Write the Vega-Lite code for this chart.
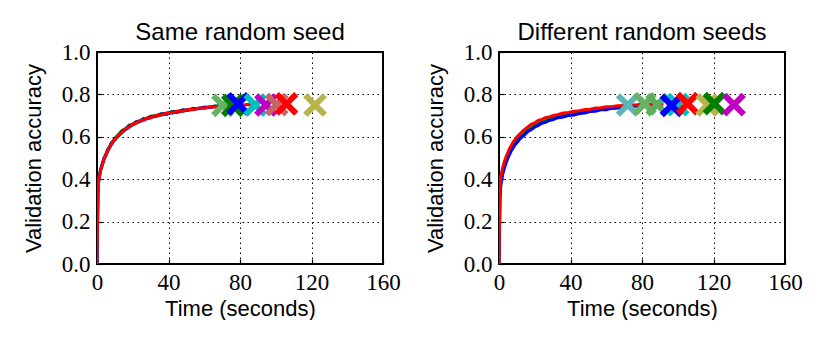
{
  "$schema": "https://vega.github.io/schema/vega-lite/v6.json",
  "padding": {"left": 21, "top": 20, "right": 0, "bottom": 0},
  "background": "white",
  "datasets": {
    "lines_same": [
      {"run":"green","t":0,"acc":0},{"run":"green","t":0.5,"acc":0.34},{"run":"green","t":1,"acc":0.405},{"run":"green","t":2,"acc":0.447},{"run":"green","t":3,"acc":0.474},{"run":"green","t":4,"acc":0.503},{"run":"green","t":5,"acc":0.519},{"run":"green","t":6,"acc":0.541},{"run":"green","t":7,"acc":0.553},{"run":"green","t":8,"acc":0.572},{"run":"green","t":9,"acc":0.58},{"run":"green","t":10,"acc":0.594},{"run":"green","t":12,"acc":0.611},{"run":"green","t":14,"acc":0.63},{"run":"green","t":16,"acc":0.639},{"run":"green","t":18,"acc":0.655},{"run":"green","t":20,"acc":0.66},{"run":"green","t":22,"acc":0.672},{"run":"green","t":24,"acc":0.676},{"run":"green","t":26,"acc":0.686},{"run":"green","t":28,"acc":0.688},{"run":"green","t":30,"acc":0.697},{"run":"green","t":33,"acc":0.7},{"run":"green","t":36,"acc":0.709},{"run":"green","t":39,"acc":0.711},{"run":"green","t":42,"acc":0.719},{"run":"green","t":45,"acc":0.72},{"run":"green","t":48,"acc":0.727},{"run":"green","t":51,"acc":0.728},{"run":"green","t":54,"acc":0.734},{"run":"green","t":57,"acc":0.735},{"run":"green","t":60,"acc":0.739},{"run":"green","t":63,"acc":0.741},{"run":"green","t":66,"acc":0.745},{"run":"green","t":69,"acc":0.746},{"run":"green","t":72,"acc":0.749},
      {"run":"cyan","t":0,"acc":0},{"run":"cyan","t":0.5,"acc":0.32},{"run":"cyan","t":1,"acc":0.395},{"run":"cyan","t":2,"acc":0.438},{"run":"cyan","t":3,"acc":0.466},{"run":"cyan","t":4,"acc":0.492},{"run":"cyan","t":5,"acc":0.511},{"run":"cyan","t":6,"acc":0.53},{"run":"cyan","t":7,"acc":0.548},{"run":"cyan","t":8,"acc":0.56},{"run":"cyan","t":9,"acc":0.575},{"run":"cyan","t":10,"acc":0.583},{"run":"cyan","t":12,"acc":0.603},{"run":"cyan","t":14,"acc":0.617},{"run":"cyan","t":16,"acc":0.634},{"run":"cyan","t":18,"acc":0.643},{"run":"cyan","t":20,"acc":0.655},{"run":"cyan","t":22,"acc":0.663},{"run":"cyan","t":24,"acc":0.672},{"run":"cyan","t":26,"acc":0.676},{"run":"cyan","t":28,"acc":0.685},{"run":"cyan","t":30,"acc":0.688},{"run":"cyan","t":33,"acc":0.697},{"run":"cyan","t":36,"acc":0.701},{"run":"cyan","t":39,"acc":0.708},{"run":"cyan","t":42,"acc":0.711},{"run":"cyan","t":45,"acc":0.717},{"run":"cyan","t":48,"acc":0.719},{"run":"cyan","t":51,"acc":0.726},{"run":"cyan","t":54,"acc":0.728},{"run":"cyan","t":57,"acc":0.733},{"run":"cyan","t":60,"acc":0.735},{"run":"cyan","t":63,"acc":0.739},{"run":"cyan","t":66,"acc":0.741},{"run":"cyan","t":69,"acc":0.744},{"run":"cyan","t":72,"acc":0.747},
      {"run":"blue","t":0,"acc":0},{"run":"blue","t":0.5,"acc":0.33},{"run":"blue","t":1,"acc":0.402},{"run":"blue","t":2,"acc":0.443},{"run":"blue","t":3,"acc":0.472},{"run":"blue","t":4,"acc":0.498},{"run":"blue","t":5,"acc":0.513},{"run":"blue","t":6,"acc":0.538},{"run":"blue","t":7,"acc":0.549},{"run":"blue","t":8,"acc":0.568},{"run":"blue","t":9,"acc":0.576},{"run":"blue","t":10,"acc":0.591},{"run":"blue","t":12,"acc":0.605},{"run":"blue","t":14,"acc":0.625},{"run":"blue","t":16,"acc":0.634},{"run":"blue","t":18,"acc":0.651},{"run":"blue","t":20,"acc":0.656},{"run":"blue","t":22,"acc":0.67},{"run":"blue","t":24,"acc":0.672},{"run":"blue","t":26,"acc":0.684},{"run":"blue","t":28,"acc":0.685},{"run":"blue","t":30,"acc":0.695},{"run":"blue","t":33,"acc":0.697},{"run":"blue","t":36,"acc":0.708},{"run":"blue","t":39,"acc":0.707},{"run":"blue","t":42,"acc":0.717},{"run":"blue","t":45,"acc":0.716},{"run":"blue","t":48,"acc":0.726},{"run":"blue","t":51,"acc":0.725},{"run":"blue","t":54,"acc":0.733},{"run":"blue","t":57,"acc":0.732},{"run":"blue","t":60,"acc":0.739},{"run":"blue","t":63,"acc":0.738},{"run":"blue","t":66,"acc":0.744},{"run":"blue","t":69,"acc":0.744},{"run":"blue","t":72,"acc":0.749},
      {"run":"red","t":0,"acc":0},{"run":"red","t":0.5,"acc":0.335},{"run":"red","t":1,"acc":0.398},{"run":"red","t":2,"acc":0.441},{"run":"red","t":3,"acc":0.469},{"run":"red","t":4,"acc":0.496},{"run":"red","t":5,"acc":0.516},{"run":"red","t":6,"acc":0.533},{"run":"red","t":7,"acc":0.552},{"run":"red","t":8,"acc":0.563},{"run":"red","t":9,"acc":0.579},{"run":"red","t":10,"acc":0.586},{"run":"red","t":12,"acc":0.609},{"run":"red","t":14,"acc":0.62},{"run":"red","t":16,"acc":0.638},{"run":"red","t":18,"acc":0.646},{"run":"red","t":20,"acc":0.66},{"run":"red","t":22,"acc":0.665},{"run":"red","t":24,"acc":0.676},{"run":"red","t":26,"acc":0.679},{"run":"red","t":28,"acc":0.689},{"run":"red","t":30,"acc":0.69},{"run":"red","t":33,"acc":0.701},{"run":"red","t":36,"acc":0.703},{"run":"red","t":39,"acc":0.712},{"run":"red","t":42,"acc":0.713},{"run":"red","t":45,"acc":0.721},{"run":"red","t":48,"acc":0.721},{"run":"red","t":51,"acc":0.729},{"run":"red","t":54,"acc":0.729},{"run":"red","t":57,"acc":0.736},{"run":"red","t":60,"acc":0.735},{"run":"red","t":63,"acc":0.742},{"run":"red","t":66,"acc":0.741},{"run":"red","t":69,"acc":0.747},{"run":"red","t":72,"acc":0.746},{"run":"red","t":76,"acc":0.75},{"run":"red","t":80,"acc":0.749},{"run":"red","t":84,"acc":0.752},{"run":"red","t":88,"acc":0.751}
    ],
    "marks_same": [
      {"run":"lightgreen","t":70.5,"acc":0.748},
      {"run":"green","t":76,"acc":0.748},
      {"run":"blue","t":79,"acc":0.755},
      {"run":"cyan","t":88.5,"acc":0.75},
      {"run":"magenta","t":94.5,"acc":0.75},
      {"run":"pinkred","t":100.5,"acc":0.752},
      {"run":"red","t":106,"acc":0.755},
      {"run":"olive","t":122,"acc":0.75}
    ],
    "lines_diff": [
      {"run":"cyan","t":0,"acc":0},{"run":"cyan","t":0.5,"acc":0.34},{"run":"cyan","t":1,"acc":0.41},{"run":"cyan","t":2,"acc":0.45},{"run":"cyan","t":3,"acc":0.478},{"run":"cyan","t":4,"acc":0.503},{"run":"cyan","t":5,"acc":0.522},{"run":"cyan","t":6,"acc":0.542},{"run":"cyan","t":7,"acc":0.556},{"run":"cyan","t":8,"acc":0.571},{"run":"cyan","t":9,"acc":0.583},{"run":"cyan","t":10,"acc":0.593},{"run":"cyan","t":12,"acc":0.612},{"run":"cyan","t":14,"acc":0.628},{"run":"cyan","t":16,"acc":0.641},{"run":"cyan","t":18,"acc":0.652},{"run":"cyan","t":20,"acc":0.662},{"run":"cyan","t":22,"acc":0.67},{"run":"cyan","t":24,"acc":0.678},{"run":"cyan","t":26,"acc":0.684},{"run":"cyan","t":28,"acc":0.69},{"run":"cyan","t":30,"acc":0.694},{"run":"cyan","t":33,"acc":0.701},{"run":"cyan","t":36,"acc":0.707},{"run":"cyan","t":39,"acc":0.712},{"run":"cyan","t":42,"acc":0.716},{"run":"cyan","t":45,"acc":0.72},{"run":"cyan","t":48,"acc":0.724},{"run":"cyan","t":51,"acc":0.728},{"run":"cyan","t":54,"acc":0.731},{"run":"cyan","t":57,"acc":0.735},{"run":"cyan","t":60,"acc":0.737},{"run":"cyan","t":63,"acc":0.741},{"run":"cyan","t":66,"acc":0.743},{"run":"cyan","t":69,"acc":0.746},{"run":"cyan","t":72,"acc":0.748},
      {"run":"green","t":0,"acc":0},{"run":"green","t":0.5,"acc":0.32},{"run":"green","t":1,"acc":0.39},{"run":"green","t":2,"acc":0.43},{"run":"green","t":3,"acc":0.462},{"run":"green","t":4,"acc":0.487},{"run":"green","t":5,"acc":0.508},{"run":"green","t":6,"acc":0.527},{"run":"green","t":7,"acc":0.543},{"run":"green","t":8,"acc":0.558},{"run":"green","t":9,"acc":0.571},{"run":"green","t":10,"acc":0.58},{"run":"green","t":12,"acc":0.601},{"run":"green","t":14,"acc":0.614},{"run":"green","t":16,"acc":0.631},{"run":"green","t":18,"acc":0.64},{"run":"green","t":20,"acc":0.653},{"run":"green","t":22,"acc":0.66},{"run":"green","t":24,"acc":0.67},{"run":"green","t":26,"acc":0.674},{"run":"green","t":28,"acc":0.683},{"run":"green","t":30,"acc":0.686},{"run":"green","t":33,"acc":0.695},{"run":"green","t":36,"acc":0.699},{"run":"green","t":39,"acc":0.706},{"run":"green","t":42,"acc":0.709},{"run":"green","t":45,"acc":0.716},{"run":"green","t":48,"acc":0.718},{"run":"green","t":51,"acc":0.725},{"run":"green","t":54,"acc":0.727},{"run":"green","t":57,"acc":0.732},{"run":"green","t":60,"acc":0.734},{"run":"green","t":63,"acc":0.738},{"run":"green","t":66,"acc":0.74},{"run":"green","t":69,"acc":0.744},{"run":"green","t":72,"acc":0.745},
      {"run":"blue","t":0,"acc":0},{"run":"blue","t":0.5,"acc":0.3},{"run":"blue","t":1,"acc":0.37},{"run":"blue","t":2,"acc":0.42},{"run":"blue","t":3,"acc":0.452},{"run":"blue","t":4,"acc":0.478},{"run":"blue","t":5,"acc":0.5},{"run":"blue","t":6,"acc":0.518},{"run":"blue","t":7,"acc":0.536},{"run":"blue","t":8,"acc":0.549},{"run":"blue","t":9,"acc":0.563},{"run":"blue","t":10,"acc":0.572},{"run":"blue","t":12,"acc":0.593},{"run":"blue","t":14,"acc":0.607},{"run":"blue","t":16,"acc":0.624},{"run":"blue","t":18,"acc":0.633},{"run":"blue","t":20,"acc":0.646},{"run":"blue","t":22,"acc":0.654},{"run":"blue","t":24,"acc":0.664},{"run":"blue","t":26,"acc":0.668},{"run":"blue","t":28,"acc":0.677},{"run":"blue","t":30,"acc":0.68},{"run":"blue","t":33,"acc":0.69},{"run":"blue","t":36,"acc":0.693},{"run":"blue","t":39,"acc":0.701},{"run":"blue","t":42,"acc":0.703},{"run":"blue","t":45,"acc":0.71},{"run":"blue","t":48,"acc":0.712},{"run":"blue","t":51,"acc":0.719},{"run":"blue","t":54,"acc":0.721},{"run":"blue","t":57,"acc":0.727},{"run":"blue","t":60,"acc":0.728},{"run":"blue","t":63,"acc":0.734},{"run":"blue","t":66,"acc":0.735},{"run":"blue","t":69,"acc":0.74},{"run":"blue","t":72,"acc":0.741},{"run":"blue","t":76,"acc":0.745},{"run":"blue","t":80,"acc":0.744},{"run":"blue","t":84,"acc":0.748},{"run":"blue","t":88,"acc":0.747},
      {"run":"red","t":0,"acc":0},{"run":"red","t":0.5,"acc":0.34},{"run":"red","t":1,"acc":0.41},{"run":"red","t":2,"acc":0.452},{"run":"red","t":3,"acc":0.481},{"run":"red","t":4,"acc":0.507},{"run":"red","t":5,"acc":0.526},{"run":"red","t":6,"acc":0.546},{"run":"red","t":7,"acc":0.561},{"run":"red","t":8,"acc":0.576},{"run":"red","t":9,"acc":0.587},{"run":"red","t":10,"acc":0.599},{"run":"red","t":12,"acc":0.616},{"run":"red","t":14,"acc":0.633},{"run":"red","t":16,"acc":0.645},{"run":"red","t":18,"acc":0.659},{"run":"red","t":20,"acc":0.666},{"run":"red","t":22,"acc":0.677},{"run":"red","t":24,"acc":0.682},{"run":"red","t":26,"acc":0.69},{"run":"red","t":28,"acc":0.694},{"run":"red","t":30,"acc":0.7},{"run":"red","t":33,"acc":0.705},{"run":"red","t":36,"acc":0.712},{"run":"red","t":39,"acc":0.715},{"run":"red","t":42,"acc":0.721},{"run":"red","t":45,"acc":0.723},{"run":"red","t":48,"acc":0.729},{"run":"red","t":51,"acc":0.73},{"run":"red","t":54,"acc":0.736},{"run":"red","t":57,"acc":0.737},{"run":"red","t":60,"acc":0.742},{"run":"red","t":63,"acc":0.742},{"run":"red","t":66,"acc":0.747},{"run":"red","t":69,"acc":0.747},{"run":"red","t":72,"acc":0.751},{"run":"red","t":76,"acc":0.75},{"run":"red","t":80,"acc":0.753},{"run":"red","t":84,"acc":0.752},{"run":"red","t":88,"acc":0.755},{"run":"red","t":92,"acc":0.754}
    ],
    "marks_diff": [
      {"run":"teal","t":72,"acc":0.75},
      {"run":"lightgreen","t":81.5,"acc":0.755},
      {"run":"midgreen","t":88.5,"acc":0.752},
      {"run":"cyan","t":100,"acc":0.752},
      {"run":"blue","t":96.5,"acc":0.748},
      {"run":"red","t":105.5,"acc":0.757},
      {"run":"olive","t":116.5,"acc":0.75},
      {"run":"green","t":120.5,"acc":0.757},
      {"run":"magenta","t":131.5,"acc":0.752}
    ]
  },
  "spacing": 21,
  "hconcat": [
    {
      "width": 286, "height": 212,
      "title": {"text": "Same random seed"},
      "layer": [
        {
          "data": {"name": "lines_same"},
          "mark": {"type": "line", "strokeWidth": 3, "clip": true},
          "encoding": {
            "x": {"field": "t", "type": "quantitative", "title": "Time (seconds)", "scale": {"domain": [0, 160], "nice": false}, "axis": {"values": [0, 40, 80, 120, 160]}},
            "y": {"field": "acc", "type": "quantitative", "title": "Validation accuracy", "scale": {"domain": [0, 1], "nice": false}, "axis": {"values": [0, 0.2, 0.4, 0.6, 0.8, 1.0], "format": ".1f"}},
            "color": {"field": "run", "type": "nominal", "legend": null, "scale": {"domain": ["green","cyan","blue","red","lightgreen","magenta","pinkred","olive","teal","midgreen"], "range": ["#007f00","#00bfbf","#0000ff","#ff0000","#66b266","#bf00bf","#c86464","#b5b54a","#5fb5b5","#5cad5c"]}}
          }
        },
        {
          "data": {"name": "marks_same"},
          "mark": {"type": "point", "shape": "M-1,-1L1,1M-1,1L1,-1", "filled": false, "strokeWidth": 6, "size": 380, "opacity": 1},
          "encoding": {
            "x": {"field": "t", "type": "quantitative"},
            "y": {"field": "acc", "type": "quantitative"},
            "color": {"field": "run", "type": "nominal"}
          }
        }
      ]
    },
    {
      "width": 286, "height": 212,
      "title": {"text": "Different random seeds"},
      "layer": [
        {
          "data": {"name": "lines_diff"},
          "mark": {"type": "line", "strokeWidth": 3, "clip": true},
          "encoding": {
            "x": {"field": "t", "type": "quantitative", "title": "Time (seconds)", "scale": {"domain": [0, 160], "nice": false}, "axis": {"values": [0, 40, 80, 120, 160]}},
            "y": {"field": "acc", "type": "quantitative", "title": "Validation accuracy", "scale": {"domain": [0, 1], "nice": false}, "axis": {"values": [0, 0.2, 0.4, 0.6, 0.8, 1.0], "format": ".1f"}},
            "color": {"field": "run", "type": "nominal", "legend": null, "scale": {"domain": ["green","cyan","blue","red","lightgreen","magenta","pinkred","olive","teal","midgreen"], "range": ["#007f00","#00bfbf","#0000ff","#ff0000","#66b266","#bf00bf","#c86464","#b5b54a","#5fb5b5","#5cad5c"]}}
          }
        },
        {
          "data": {"name": "marks_diff"},
          "mark": {"type": "point", "shape": "M-1,-1L1,1M-1,1L1,-1", "filled": false, "strokeWidth": 6, "size": 380, "opacity": 1},
          "encoding": {
            "x": {"field": "t", "type": "quantitative"},
            "y": {"field": "acc", "type": "quantitative"},
            "color": {"field": "run", "type": "nominal"}
          }
        }
      ]
    }
  ],
  "resolve": {"scale": {"color": "shared"}},
  "config": {
    "view": {"stroke": "black", "strokeWidth": 2},
    "title": {"font": "Liberation Sans", "fontSize": 24, "fontWeight": "normal", "color": "black", "offset": -4, "anchor": "middle"},
    "axis": {
      "domain": false,
      "grid": true, "gridColor": "black", "gridDash": [1.5, 3.5], "gridWidth": 1, "gridOpacity": 1,
      "ticks": true, "tickColor": "black", "tickSize": -5, "tickWidth": 1.2,
      "labelFont": "Liberation Serif", "labelFontSize": 23, "labelColor": "black", "labelFlush": false, "labelOverlap": false, "labelPadding": 12,
      "titleFont": "Liberation Sans", "titleFontSize": 22, "titleFontWeight": "normal", "titleColor": "black"
    },
    "axisX": {"titlePadding": 4},
    "axisY": {"titlePadding": 16}
  }
}
